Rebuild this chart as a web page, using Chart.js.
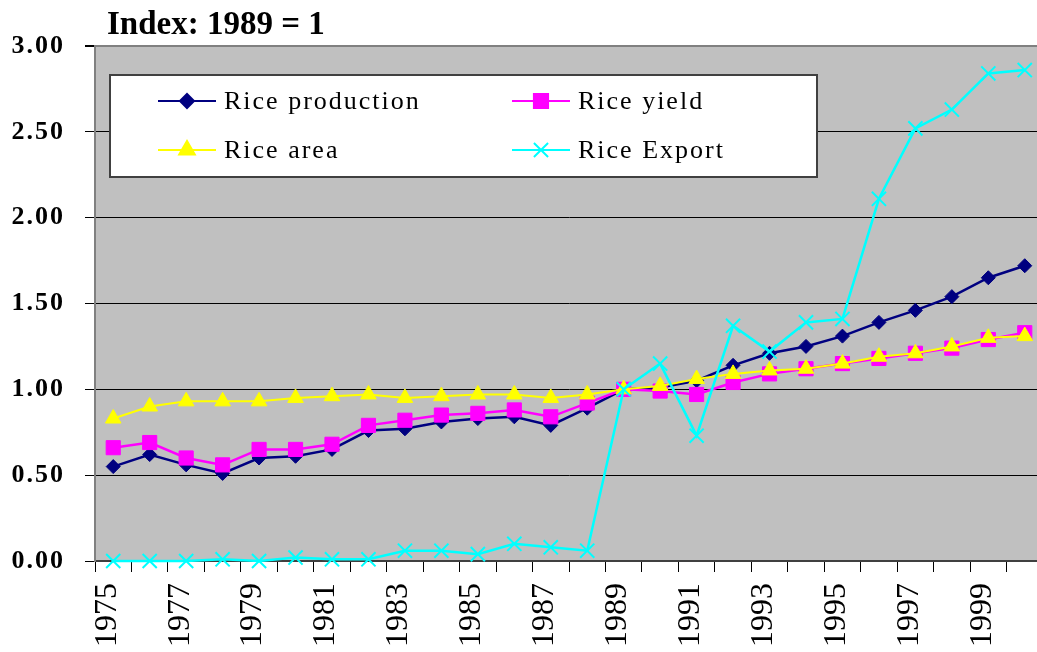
<!DOCTYPE html>
<html>
<head>
<meta charset="utf-8">
<title>Rice index</title>
<script src="https://cdn.jsdelivr.net/npm/chart.js@4.4.1/dist/chart.umd.min.js"></script>
<style>
  html, body { margin: 0; padding: 0; background: #fff; overflow: hidden; }
  #wrap { width: 1037px; height: 652px; overflow: hidden; }
</style>
</head>
<body>
<div id="wrap"><canvas id="riceChart" width="1045" height="652"></canvas></div>
<script>
// data (index, 1989 = 1)
const years = ['1975','1976','1977','1978','1979','1980','1981','1982','1983','1984',
  '1985','1986','1987','1988','1989','1990','1991','1992','1993','1994',
  '1995','1996','1997','1998','1999','2000'];
const production = [0.55,0.62,0.56,0.51,0.60,0.61,0.65,0.76,0.77,0.81,0.83,0.84,0.79,
  0.89,1.00,1.01,1.05,1.14,1.21,1.25,1.31,1.39,1.46,1.54,1.65,1.72];
const yieldIdx = [0.66,0.69,0.60,0.56,0.65,0.65,0.68,0.79,0.82,0.85,0.86,0.88,0.84,
  0.92,1.00,0.99,0.97,1.04,1.09,1.12,1.15,1.18,1.21,1.24,1.29,1.33];
const area = [0.83,0.90,0.93,0.93,0.93,0.95,0.96,0.97,0.95,0.96,0.97,0.97,0.95,
  0.97,1.00,1.02,1.06,1.09,1.11,1.12,1.15,1.19,1.21,1.25,1.30,1.31];
const riceExport = [0.00,0.00,0.00,0.01,0.00,0.02,0.01,0.01,0.06,0.06,0.04,0.10,0.08,
  0.06,1.00,1.15,0.73,1.37,1.22,1.39,1.41,2.11,2.52,2.63,2.84,2.86];
const yTicks = [0, 0.5, 1, 1.5, 2, 2.5, 3];

const serif = "'Liberation Serif', 'Times New Roman', serif";

// grey plot area + title, no letter spacing for the x labels
const backdrop = {
  id: 'backdrop',
  beforeDraw(chart) {
    const { ctx, chartArea: a } = chart;
    ctx.letterSpacing = '0px';
    ctx.save();
    ctx.fillStyle = '#c0c0c0';
    ctx.fillRect(a.left, a.top, a.right - a.left, a.bottom - a.top);
    ctx.fillStyle = '#000';
    ctx.font = 'bold 33px ' + serif;
    ctx.textAlign = 'left';
    ctx.textBaseline = 'alphabetic';
    ctx.fillText('Index: 1989 = 1', 107, 34);
    ctx.restore();
  }
};

// legend box inside the plot, two columns
const legendBox = {
  id: 'legendBox',
  afterDatasetsDraw(chart) {
    const ctx = chart.ctx;
    ctx.letterSpacing = '2px';
    ctx.save();
    ctx.fillStyle = '#fff';
    ctx.strokeStyle = '#404040';
    ctx.lineWidth = 2;
    ctx.fillRect(110, 75, 707, 102);
    ctx.strokeRect(110, 75, 707, 102);
    chart.data.datasets.forEach((ds, k) => {
      const x0 = k % 2 === 0 ? 158 : 512;
      const y = k < 2 ? 101 : 150;
      ctx.strokeStyle = ds.borderColor;
      ctx.fillStyle = ds.backgroundColor;
      ctx.lineWidth = 2;
      ctx.beginPath();
      ctx.moveTo(x0, y);
      ctx.lineTo(x0 + 58, y);
      ctx.stroke();
      Chart.helpers.drawPoint(ctx, {
        pointStyle: ds.pointStyle,
        radius: ds.pointRadius,
        rotation: 0,
        borderWidth: ds.pointBorderWidth
      }, x0 + 29, y);
      ctx.fillStyle = '#000';
      ctx.font = '26px ' + serif;
      ctx.textAlign = 'left';
      ctx.textBaseline = 'alphabetic';
      ctx.fillText(ds.label, x0 + 66, y + 8);
    });
    ctx.restore();
  }
};

new Chart(document.getElementById('riceChart'), {
  type: 'line',
  data: {
    labels: years,
    datasets: [
      { label: 'Rice production', data: production, borderColor: '#000080', backgroundColor: '#000080',
        borderWidth: 2.5, pointStyle: 'rectRot', pointRadius: 7, pointBorderWidth: 1, order: 4 },
      { label: 'Rice yield', data: yieldIdx, borderColor: '#ff00ff', backgroundColor: '#ff00ff',
        borderWidth: 2.5, pointStyle: 'rect', pointRadius: 10, pointBorderWidth: 1, order: 3 },
      { label: 'Rice area', data: area, borderColor: '#ffff00', backgroundColor: '#ffff00',
        borderWidth: 2, pointStyle: 'triangle', pointRadius: 9, pointBorderWidth: 1, order: 2 },
      { label: 'Rice Export', data: riceExport, borderColor: '#00ffff', backgroundColor: '#00ffff',
        borderWidth: 2.5, pointStyle: 'crossRot', pointRadius: 10, pointBorderWidth: 2, order: 1 }
    ].map(ds => Object.assign(ds, {
      pointBackgroundColor: ds.backgroundColor, pointBorderColor: ds.borderColor,
      tension: 0, fill: false, clip: false
    }))
  },
  options: {
    responsive: false,
    devicePixelRatio: 1,
    animation: false,
    layout: { autoPadding: false, padding: { top: 46, left: 0, right: 2, bottom: 0 } },
    plugins: { legend: { display: false }, title: { display: false }, tooltip: { enabled: false } },
    scales: {
      x: {
        offset: true,
        grid: { offset: true, drawOnChartArea: false, drawTicks: true, tickLength: 11, color: '#000' },
        border: { color: '#404040', width: 2 },
        ticks: {
          autoSkip: false, minRotation: 90, maxRotation: 90, padding: 11, labelOffset: -6,
          color: '#000', font: { family: serif, size: 32 },
          callback: (v, i) => (i % 2 === 0 ? years[i] : '')
        },
        afterFit: s => { s.height = 91; s.paddingLeft = 0; s.paddingRight = 0; }
      },
      y: {
        min: 0, max: 3,
        afterBuildTicks: s => { s.ticks = yTicks.map(v => ({ value: v })); },
        grid: {
          color: c => (c.tick && c.tick.value === 3 ? '#808080' : '#000'),
          lineWidth: c => (c.tick && c.tick.value === 3 ? 2 : 1),
          tickColor: '#000', tickLength: 10
        },
        border: { color: '#808080', width: 2 },
        ticks: {
          z: 1, padding: 20, color: '#000',
          font: { family: serif, size: 26, weight: 'bold' },
          callback: v => v.toFixed(2)
        },
        afterFit: s => { s.width = 95; s.paddingTop = 0; s.paddingBottom = 0; }
      }
    }
  },
  plugins: [backdrop, legendBox]
});
</script>
</body>
</html>
